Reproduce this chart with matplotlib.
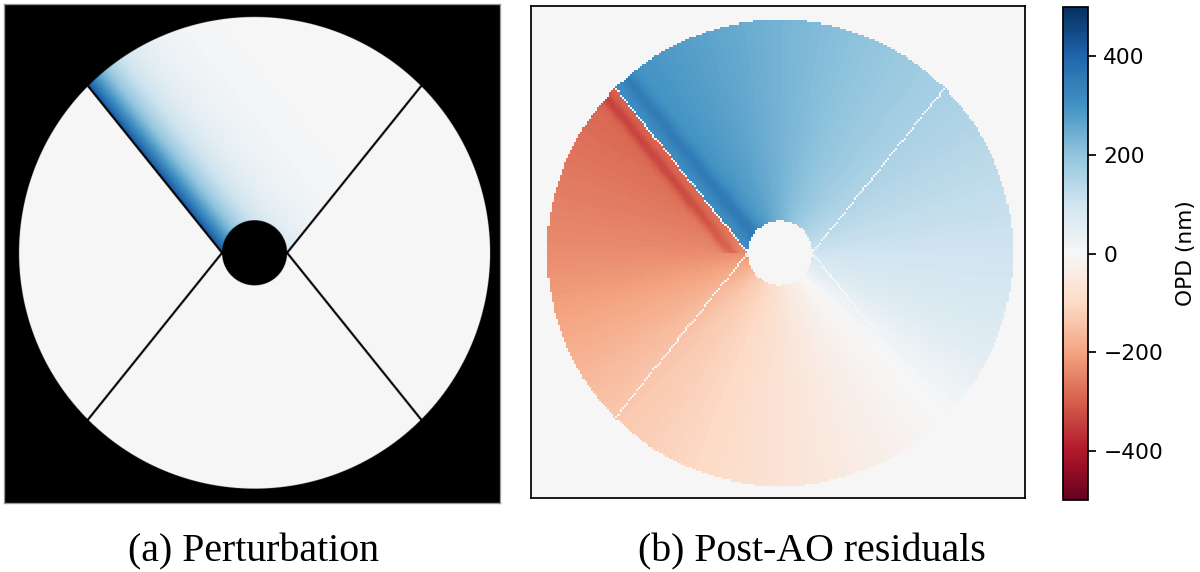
"""Pupil OPD maps: petal perturbation and post-AO residuals."""
import numpy as np
import matplotlib
matplotlib.use('Agg')
import matplotlib.pyplot as plt
from matplotlib.colors import Normalize

# --- Values ---
# post-AO residual at the pupil rim, going clockwise from the upper-left spider (deg)
RESIDUAL_AZ_DEG = [0, 45, 90, 135, 160, 180, 225, 270, 315, 360]
RESIDUAL_OPD_NM = [310, 235, 165, 100, 60, 0, -70, -135, -235, -295]
# dark streaks running along the upper-left spider (left / upper segment)
STREAK_OPD_NM = [-50, 45]
# perturbation applied on the upper segment, decaying away from the spider
PERTURB_PEAK_NM = 440
PERTURB_DECAY = 0.13

CBAR_TICKS = [-400, -200, 0, 200, 400]
CBAR_LABEL = "OPD (nm)"
OPD_RANGE = (-500, 500)
CAPTIONS = ["(a) Perturbation", "(b) Post-AO residuals"]

# --- pupil geometry (units of pupil radius) ---
R_OBS = 0.138
C45 = np.cos(np.pi / 4)
SPIDERS = {
    "tl": ((-R_OBS, 0.0), (-C45, C45)),
    "tr": ((R_OBS, 0.0), (C45, C45)),
    "bl": ((-R_OBS, 0.0), (-C45, -C45)),
    "br": ((R_OBS, 0.0), (C45, -C45)),
}


def seg_dist(X, Y, p0, p1):
    ax_, ay_ = p0
    dx, dy = p1[0] - ax_, p1[1] - ay_
    t = np.clip(((X - ax_) * dx + (Y - ay_) * dy) / (dx * dx + dy * dy), 0, 1)
    return np.hypot(X - (ax_ + t * dx), Y - (ay_ + t * dy))


def line_side(X, Y, p0, p1):
    # signed distance to the infinite line through p0, p1
    dx, dy = p1[0] - p0[0], p1[1] - p0[1]
    return (dx * (Y - p0[1]) - dy * (X - p0[0])) / np.hypot(dx, dy)


def grid(ext, nx, ny):
    px = (ext[1] - ext[0]) / nx
    py = (ext[3] - ext[2]) / ny
    xs = ext[0] + px * (np.arange(nx) + 0.5)
    ys = ext[3] - py * (np.arange(ny) + 0.5)
    X, Y = np.meshgrid(xs, ys)
    return X, Y, px


cmap = plt.get_cmap('RdBu')
norm = Normalize(*OPD_RANGE)

DPI = 157
fig = plt.figure(figsize=(1200 / DPI, 572 / DPI), dpi=DPI)

# --- (a) perturbation: smooth, black outside the pupil ---
ext_l = (-1.064, 1.042, -1.061, 1.055)
X, Y, pix = grid(ext_l, 900, 900)
r = np.hypot(X, Y)
cover = np.clip((1 - r) / pix + 0.5, 0, 1) * np.clip((r - R_OBS) / pix + 0.5, 0, 1)
for p0, p1 in SPIDERS.values():
    cover *= np.clip((seg_dist(X, Y, p0, p1) - 0.0045) / pix + 0.5, 0, 1)

s_tl = line_side(X, Y, *SPIDERS["tl"])
s_tr = line_side(X, Y, *SPIDERS["tr"])
top = (s_tl < 0) & (s_tr > 0) & (Y > 0)
pert = np.where(top, PERTURB_PEAK_NM * np.exp(s_tl / PERTURB_DECAY), 0.0)
rgb = cmap(norm(pert))[..., :3] * cover[..., None]

ax_l = fig.add_axes([4 / 1200, 69 / 572, 496 / 1200, 499 / 572])
ax_l.imshow(rgb, extent=ext_l, origin='upper', interpolation='antialiased', aspect='auto')
ax_l.set_xticks([])
ax_l.set_yticks([])
for sp in ax_l.spines.values():
    sp.set_color('0.6')
    sp.set_linewidth(0.6)

# --- (b) post-AO residuals: coarse pixels ---
ext_r = (-1.069, 1.052, -1.052, 1.060)
X, Y, pix = grid(ext_r, 240, 239)
r = np.hypot(X, Y)
theta = np.degrees(np.arctan2(Y, X))
phi = (135 - theta) % 360
s_tl = line_side(X, Y, *SPIDERS["tl"])
phi = np.where((s_tl < 0) & (phi > 270), phi - 360, phi)
res = np.interp(phi, RESIDUAL_AZ_DEG, RESIDUAL_OPD_NM)
streak = np.where(s_tl > 0,
                  STREAK_OPD_NM[0] * np.exp(-((s_tl - 0.054) / 0.025) ** 2),
                  STREAK_OPD_NM[1] * np.exp(-((-s_tl - 0.067) / 0.035) ** 2))
res += np.where((Y > X) & (Y > 0), streak, 0.0)

inside = (r <= 1.0) & (r >= R_OBS)
for p0, p1 in SPIDERS.values():
    inside &= seg_dist(X, Y, p0, p1) > 0.003
res = np.where(inside, res, 0.0)

ax_r = fig.add_axes([531 / 1200, 74 / 572, 494 / 1200, 492 / 572])
im = ax_r.imshow(res, cmap=cmap, norm=norm, extent=ext_r, origin='upper',
                 interpolation='nearest', aspect='auto')
ax_r.set_xticks([])
ax_r.set_yticks([])

cax = fig.add_axes([1063 / 1200, 72 / 572, 25 / 1200, 493 / 572])
cb = fig.colorbar(im, cax=cax, ticks=CBAR_TICKS)
cb.set_label(CBAR_LABEL, labelpad=6)

# captions
fig.text(253 / 1200, 0.018, CAPTIONS[0], ha='center', va='baseline',
         family='Liberation Serif', fontsize=18.3)
fig.text(812 / 1200, 0.018, CAPTIONS[1], ha='center', va='baseline',
         family='Liberation Serif', fontsize=18.3)

fig.savefig('out.png', dpi=DPI)
